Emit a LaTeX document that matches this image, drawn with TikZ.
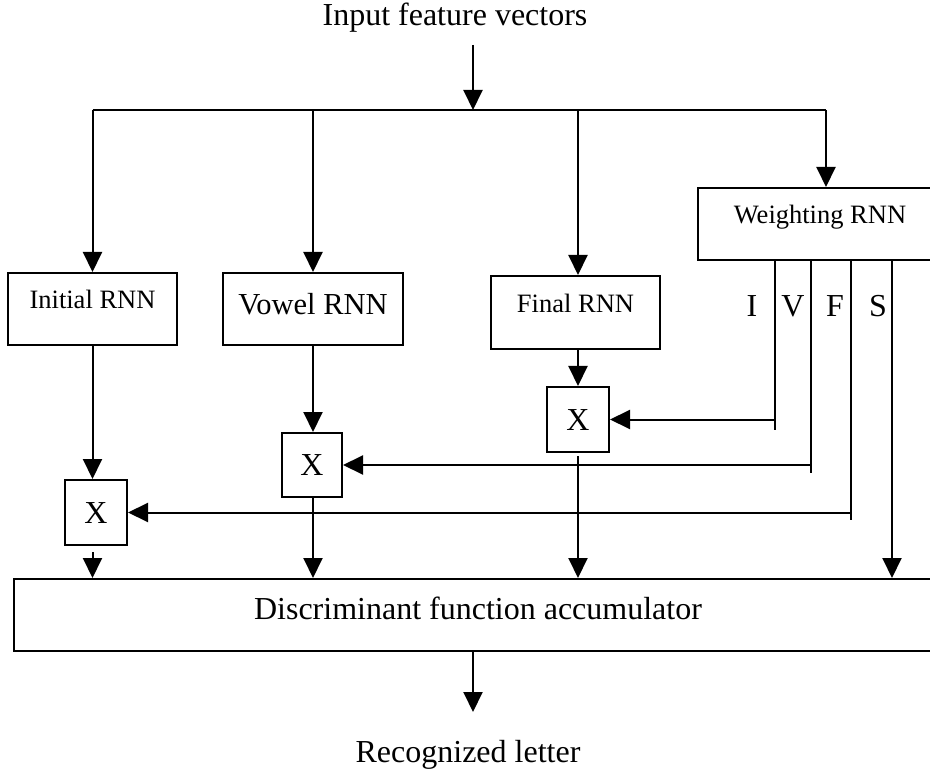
\documentclass[tikz,border=0pt]{standalone}
\usepackage{fontspec}
\setmainfont{Liberation Serif}
\usetikzlibrary{arrows.meta}

\tikzset{
  block/.style={draw, line width=2pt, inner sep=0pt, text height=12pt, text depth=12pt},
  small/.style={font=\fontsize{26.5}{32}\selectfont},
  big/.style={font=\fontsize{32}{38}\selectfont},
  arr/.style={-{Triangle[length=20pt,width=19pt]}},
}

\begin{document}
\begin{tikzpicture}[x=1pt, y=-1pt, line width=2pt]
    \path[use as bounding box, clip] (0,0) rectangle (930,770);

    % Texts at top and bottom
    \node[big, anchor=base] (inp) at (455,26) {Input feature vectors};
    \node[big, anchor=base] (rec) at (468,762) {Recognized letter};

    % The RNN boxes
    \node[block, small, minimum width=169pt, minimum height=72pt] (ini) at (92.5,309) {Initial RNN};
    \node[block, font=\fontsize{30.5}{36}\selectfont, text height=18pt, text depth=7pt,
          minimum width=180pt, minimum height=72pt] (vow) at (313,309) {Vowel RNN};
    \node[block, small, minimum width=169pt, minimum height=73pt] (fin) at (575.5,312.5) {Final RNN};
    \node[block, small, minimum width=244pt, minimum height=72pt] (wgt) at (820,224) {Weighting RNN};

    % The multipliers
    \node[block, big, text height=21pt, text depth=0pt, minimum width=62pt, minimum height=65pt] (xini) at (96,512.5) {X};
    \node[block, big, text height=21pt, text depth=0pt, minimum width=60pt, minimum height=64pt] (xvow) at (312,465) {X};
    \node[block, big, text height=21pt, text depth=0pt, minimum width=62pt, minimum height=65pt] (xfin) at (578,419.5) {X};

    % The accumulator
    \node[block, big, text height=16pt, text depth=8pt, minimum width=928pt, minimum height=72pt] (dfa) at (478,615) {Discriminant function accumulator};

    % Weight labels
    \node[big, anchor=base] (lI) at (752,317) {I};
    \node[big, anchor=base] (lV) at (793,317) {V};
    \node[big, anchor=base] (lF) at (835,317) {F};
    \node[big, anchor=base] (lS) at (878,317) {S};

    % Input bus
    \coordinate (intop) at (473,45);
    \coordinate (split) at (473,110);
    \coordinate (busL) at (92.5,110);
    \coordinate (busR) at (826,110);
    \draw[arr] (intop) -- (split);
    \draw (busL) -- (busR);
    \draw[arr] (busL) -- (ini.north);
    \draw[arr] (vow.north |- busL) -- (vow.north);
    \draw[arr] (xfin.north |- busL) -- (xfin.north |- fin.north);
    \draw[arr] (busR) -- (busR |- wgt.north);

    % RNN outputs into the multipliers
    \draw[arr] (ini.south) -- (ini.south |- xini.north);
    \draw[arr] (vow.south) -- (vow.south |- xvow.north);
    \draw[arr] (xfin.north |- fin.south) -- (xfin.north);

    % Weight lines
    \coordinate (cI) at (775,430);
    \coordinate (cV) at (811,473);
    \coordinate (cF) at (851,520);
    \coordinate (cS) at (892,0);
    \draw (wgt.south -| cI) -- (cI);
    \draw[arr] (cI |- xfin.east) -- (xfin.east);
    \draw (wgt.south -| cV) -- (cV);
    \draw[arr] (cV |- xvow.east) -- (xvow.east);
    \draw (wgt.south -| cF) -- (cF);
    \draw[arr] (cF |- xini.east) -- (xini.east);
    \draw[arr] (wgt.south -| cS) -- (dfa.north -| cS);

    % Multipliers into the accumulator
    \draw[arr] ([yshift=-6pt]ini.south |- xini.south) -- (ini.south |- dfa.north);
    \draw[arr] (vow.south |- xvow.south) -- (vow.south |- dfa.north);
    \draw[arr] ([yshift=-3pt]xfin.south) -- (xfin.south |- dfa.north);

    % Output
    \coordinate (outb) at (473,712);
    \draw[arr] (dfa.south -| outb) -- (outb);
\end{tikzpicture}
\end{document}
